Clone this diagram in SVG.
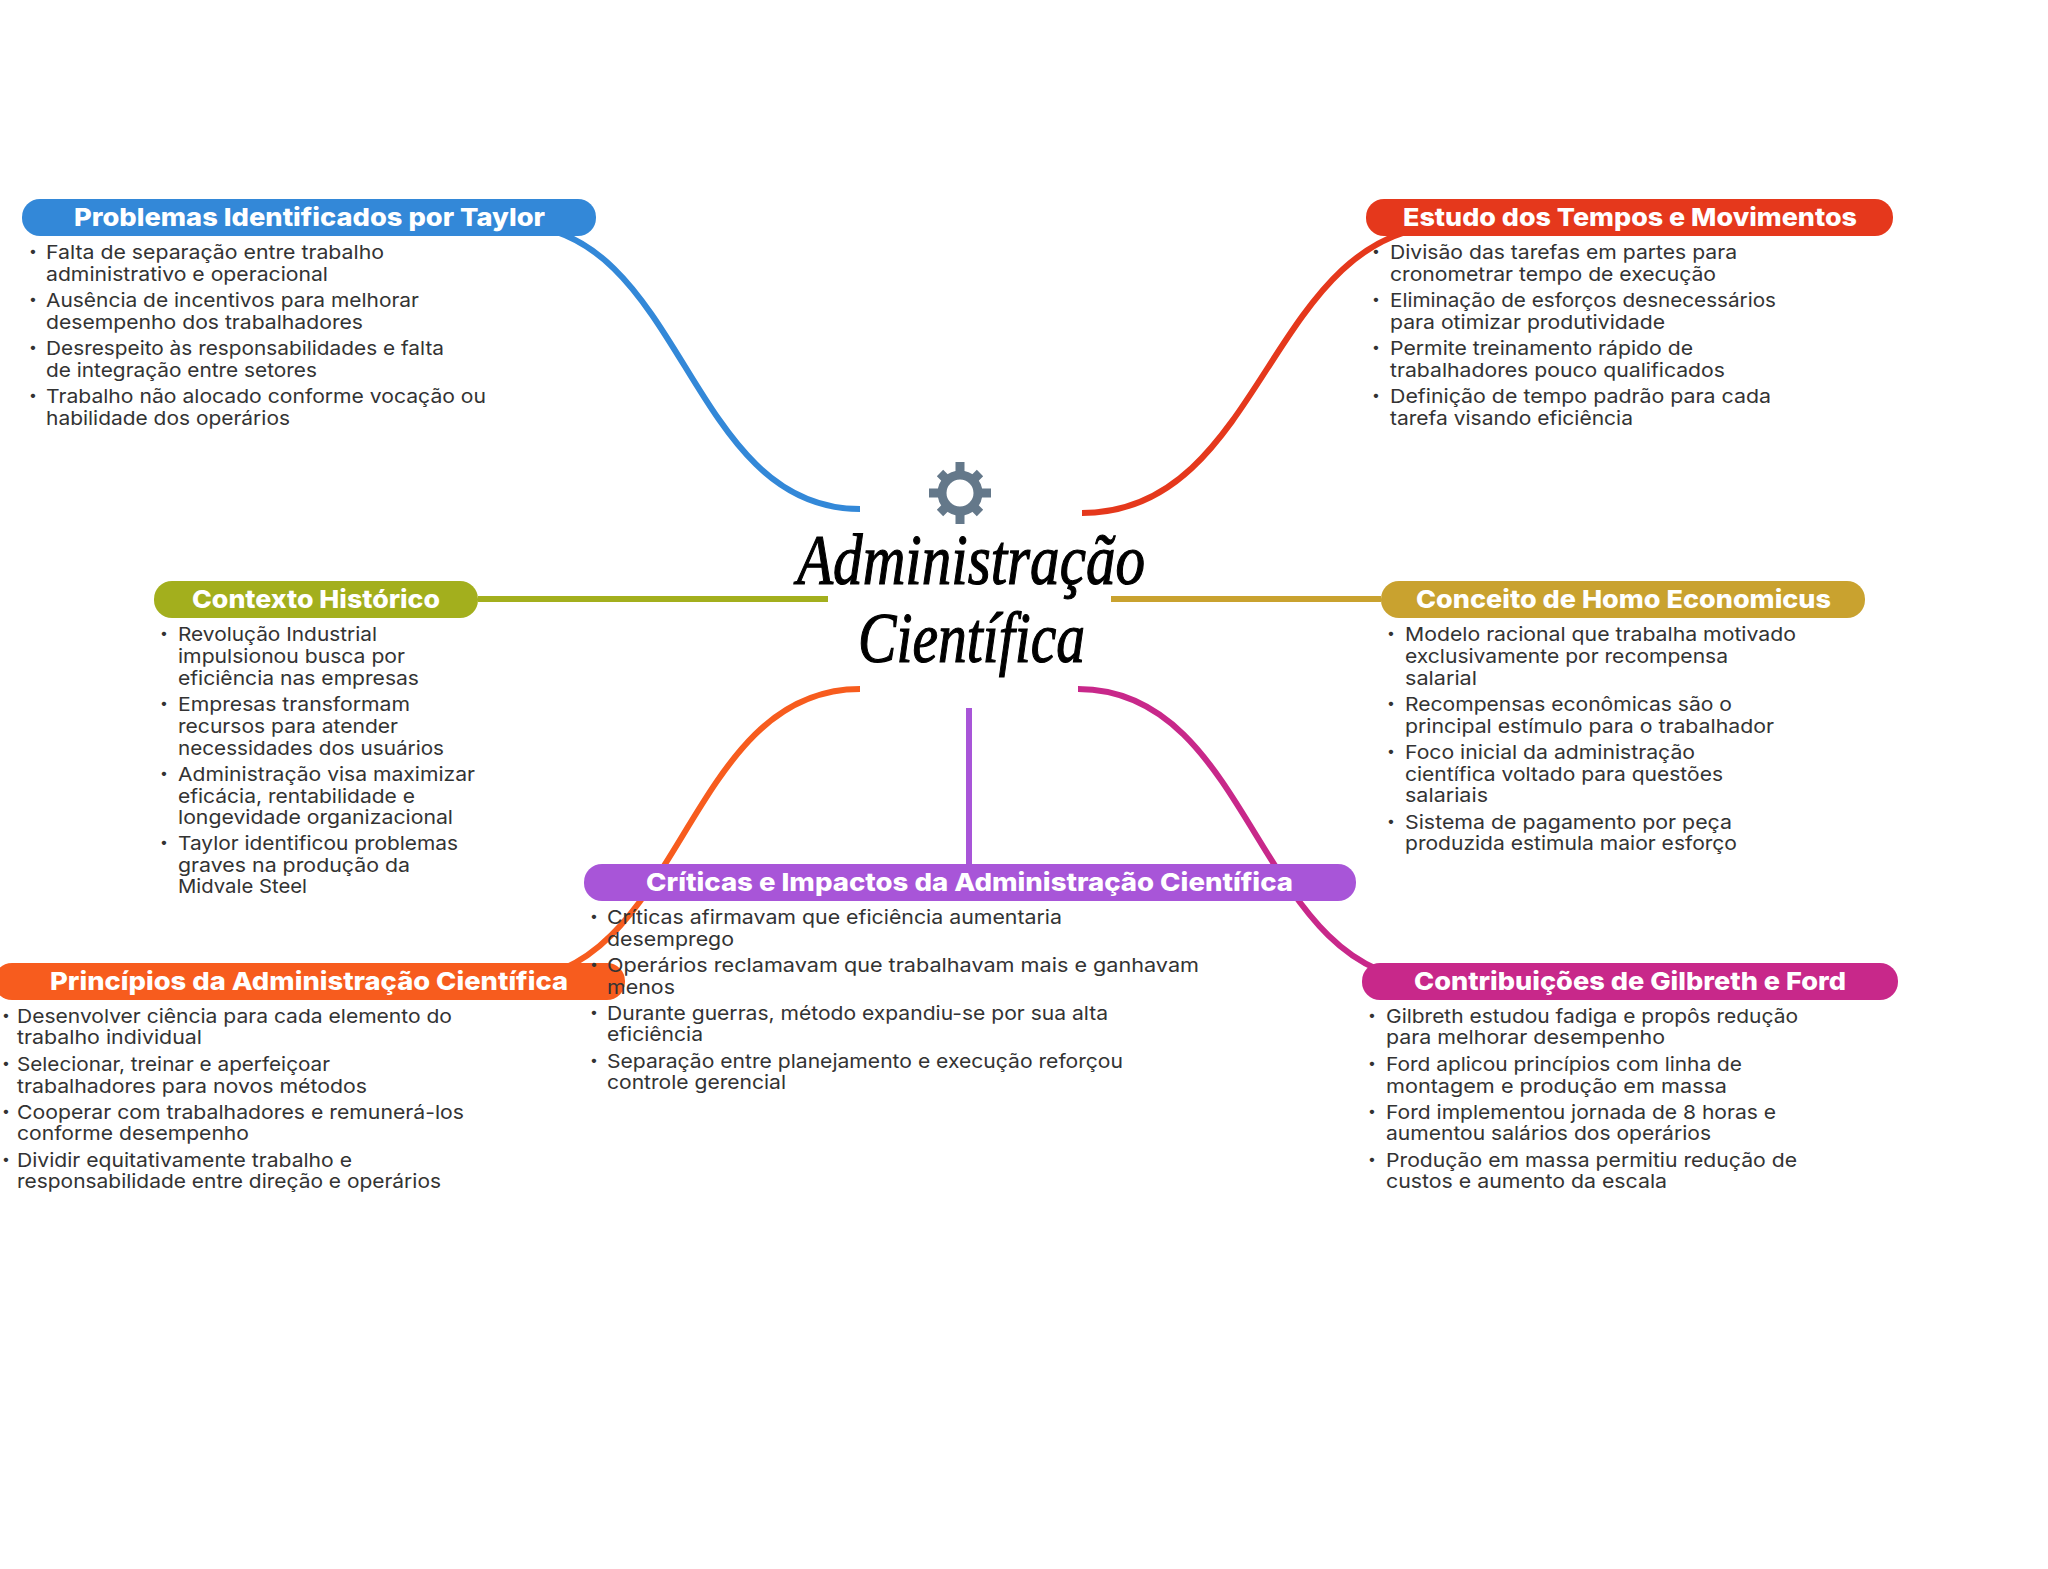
<svg xmlns="http://www.w3.org/2000/svg" width="2048" height="1569" viewBox="0 0 2048 1569">
<style>
text{font-family:"Inter","Noto Sans","Liberation Sans",sans-serif}
.h{font-weight:800;font-size:25px;fill:#fff;text-anchor:start}
.t{font-size:19px;fill:#333;transform:translateY(1px)}
.b{font-size:14px;fill:#333;transform:translate(-1px,-1px)}
.c{fill:none;stroke-width:6;stroke-linecap:butt}
.title{font-family:"Liberation Serif",serif;font-style:italic;font-size:71px;fill:#000;stroke:#000;stroke-width:1.2}
</style>
<rect width="2048" height="1569" fill="#fff"/>
<g id="connectors">
<path class="c" stroke="#3388d8" d="M860,509C685,509 685,224 510,224"/>
<path class="c" stroke="#e5381c" d="M1082,513C1267,513 1267,225 1452,225"/>
<path class="c" stroke="#a3af1d" d="M478,599H828"/>
<path class="c" stroke="#c9a22f" d="M1111,599H1381"/>
<path class="c" stroke="#f75c1e" d="M860,689C683,689 683,981 506,981"/>
<path class="c" stroke="#c8288a" d="M1078,689C1256,689 1256,981 1434,981"/>
<path class="c" stroke="#a855d8" d="M969,708V864"/>
</g>
<g id="node-center">
<g stroke="#64788a" stroke-width="9"><path d="M960,462V524M929,493H991M940,473L980,513M980,473L940,513"/></g>
<circle cx="960" cy="493" r="18" fill="#fff" stroke="#64788a" stroke-width="9"/>
<text class="title" x="797" y="584" textLength="348" lengthAdjust="spacingAndGlyphs">Administração</text>
<text class="title" x="858" y="662" textLength="227" lengthAdjust="spacingAndGlyphs">Científica</text>
</g>
<g id="node-principios">
<rect x="-6" y="963" width="631" height="37" rx="18" fill="#f75c1e"/>
<text class="h" x="50" y="990" textLength="518" lengthAdjust="spacingAndGlyphs">Princípios da Administração Científica</text>
<text class="b" x="3" y="1021">•</text><text class="t" x="17" y="1022" textLength="435" lengthAdjust="spacingAndGlyphs">Desenvolver ciência para cada elemento do</text>
<text class="t" x="17" y="1043" textLength="185" lengthAdjust="spacingAndGlyphs">trabalho individual</text>
<text class="b" x="3" y="1069">•</text><text class="t" x="17" y="1070" textLength="313" lengthAdjust="spacingAndGlyphs">Selecionar, treinar e aperfeiçoar</text>
<text class="t" x="17" y="1092" textLength="350" lengthAdjust="spacingAndGlyphs">trabalhadores para novos métodos</text>
<text class="b" x="3" y="1117">•</text><text class="t" x="17" y="1118" textLength="447" lengthAdjust="spacingAndGlyphs">Cooperar com trabalhadores e remunerá-los</text>
<text class="t" x="17" y="1139" textLength="232" lengthAdjust="spacingAndGlyphs">conforme desempenho</text>
<text class="b" x="3" y="1165">•</text><text class="t" x="17" y="1166" textLength="335" lengthAdjust="spacingAndGlyphs">Dividir equitativamente trabalho e</text>
<text class="t" x="17" y="1187" textLength="424" lengthAdjust="spacingAndGlyphs">responsabilidade entre direção e operários</text>
</g>
<g id="node-problemas">
<rect x="22" y="199" width="574" height="37" rx="18" fill="#3388d8"/>
<text class="h" x="74" y="226" textLength="471" lengthAdjust="spacingAndGlyphs">Problemas Identificados por Taylor</text>
<text class="b" x="30" y="257">•</text><text class="t" x="46" y="258" textLength="338" lengthAdjust="spacingAndGlyphs">Falta de separação entre trabalho</text>
<text class="t" x="46" y="280" textLength="282" lengthAdjust="spacingAndGlyphs">administrativo e operacional</text>
<text class="b" x="30" y="305">•</text><text class="t" x="46" y="306" textLength="373" lengthAdjust="spacingAndGlyphs">Ausência de incentivos para melhorar</text>
<text class="t" x="46" y="328" textLength="317" lengthAdjust="spacingAndGlyphs">desempenho dos trabalhadores</text>
<text class="b" x="30" y="353">•</text><text class="t" x="46" y="354" textLength="398" lengthAdjust="spacingAndGlyphs">Desrespeito às responsabilidades e falta</text>
<text class="t" x="46" y="376" textLength="271" lengthAdjust="spacingAndGlyphs">de integração entre setores</text>
<text class="b" x="30" y="401">•</text><text class="t" x="46" y="402" textLength="440" lengthAdjust="spacingAndGlyphs">Trabalho não alocado conforme vocação ou</text>
<text class="t" x="46" y="424" textLength="244" lengthAdjust="spacingAndGlyphs">habilidade dos operários</text>
</g>
<g id="node-estudo">
<rect x="1366" y="199" width="527" height="37" rx="18" fill="#e5381c"/>
<text class="h" x="1403" y="226" textLength="454" lengthAdjust="spacingAndGlyphs">Estudo dos Tempos e Movimentos</text>
<text class="b" x="1373" y="257">•</text><text class="t" x="1390" y="258" textLength="347" lengthAdjust="spacingAndGlyphs">Divisão das tarefas em partes para</text>
<text class="t" x="1390" y="280" textLength="326" lengthAdjust="spacingAndGlyphs">cronometrar tempo de execução</text>
<text class="b" x="1373" y="305">•</text><text class="t" x="1390" y="306" textLength="386" lengthAdjust="spacingAndGlyphs">Eliminação de esforços desnecessários</text>
<text class="t" x="1390" y="328" textLength="275" lengthAdjust="spacingAndGlyphs">para otimizar produtividade</text>
<text class="b" x="1373" y="353">•</text><text class="t" x="1390" y="354" textLength="303" lengthAdjust="spacingAndGlyphs">Permite treinamento rápido de</text>
<text class="t" x="1390" y="376" textLength="335" lengthAdjust="spacingAndGlyphs">trabalhadores pouco qualificados</text>
<text class="b" x="1373" y="401">•</text><text class="t" x="1390" y="402" textLength="381" lengthAdjust="spacingAndGlyphs">Definição de tempo padrão para cada</text>
<text class="t" x="1390" y="424" textLength="243" lengthAdjust="spacingAndGlyphs">tarefa visando eficiência</text>
</g>
<g id="node-contexto">
<rect x="154" y="581" width="324" height="37" rx="18" fill="#a3af1d"/>
<text class="h" x="192" y="608" textLength="248" lengthAdjust="spacingAndGlyphs">Contexto Histórico</text>
<text class="b" x="161" y="639">•</text><text class="t" x="178" y="640" textLength="199" lengthAdjust="spacingAndGlyphs">Revolução Industrial</text>
<text class="t" x="178" y="662" textLength="227" lengthAdjust="spacingAndGlyphs">impulsionou busca por</text>
<text class="t" x="178" y="684" textLength="241" lengthAdjust="spacingAndGlyphs">eficiência nas empresas</text>
<text class="b" x="161" y="709">•</text><text class="t" x="178" y="710" textLength="232" lengthAdjust="spacingAndGlyphs">Empresas transformam</text>
<text class="t" x="178" y="732" textLength="220" lengthAdjust="spacingAndGlyphs">recursos para atender</text>
<text class="t" x="178" y="754" textLength="266" lengthAdjust="spacingAndGlyphs">necessidades dos usuários</text>
<text class="b" x="161" y="779">•</text><text class="t" x="178" y="780" textLength="297" lengthAdjust="spacingAndGlyphs">Administração visa maximizar</text>
<text class="t" x="178" y="802" textLength="237" lengthAdjust="spacingAndGlyphs">eficácia, rentabilidade e</text>
<text class="t" x="178" y="823" textLength="275" lengthAdjust="spacingAndGlyphs">longevidade organizacional</text>
<text class="b" x="161" y="848">•</text><text class="t" x="178" y="849" textLength="280" lengthAdjust="spacingAndGlyphs">Taylor identificou problemas</text>
<text class="t" x="178" y="871" textLength="232" lengthAdjust="spacingAndGlyphs">graves na produção da</text>
<text class="t" x="178" y="892" textLength="129" lengthAdjust="spacingAndGlyphs">Midvale Steel</text>
</g>
<g id="node-conceito">
<rect x="1381" y="581" width="484" height="37" rx="18" fill="#c9a22f"/>
<text class="h" x="1416" y="608" textLength="415" lengthAdjust="spacingAndGlyphs">Conceito de Homo Economicus</text>
<text class="b" x="1388" y="639">•</text><text class="t" x="1405" y="640" textLength="391" lengthAdjust="spacingAndGlyphs">Modelo racional que trabalha motivado</text>
<text class="t" x="1405" y="662" textLength="323" lengthAdjust="spacingAndGlyphs">exclusivamente por recompensa</text>
<text class="t" x="1405" y="684" textLength="72" lengthAdjust="spacingAndGlyphs">salarial</text>
<text class="b" x="1388" y="709">•</text><text class="t" x="1405" y="710" textLength="327" lengthAdjust="spacingAndGlyphs">Recompensas econômicas são o</text>
<text class="t" x="1405" y="732" textLength="369" lengthAdjust="spacingAndGlyphs">principal estímulo para o trabalhador</text>
<text class="b" x="1388" y="757">•</text><text class="t" x="1405" y="758" textLength="290" lengthAdjust="spacingAndGlyphs">Foco inicial da administração</text>
<text class="t" x="1405" y="780" textLength="318" lengthAdjust="spacingAndGlyphs">científica voltado para questões</text>
<text class="t" x="1405" y="801" textLength="83" lengthAdjust="spacingAndGlyphs">salariais</text>
<text class="b" x="1388" y="827">•</text><text class="t" x="1405" y="828" textLength="327" lengthAdjust="spacingAndGlyphs">Sistema de pagamento por peça</text>
<text class="t" x="1405" y="849" textLength="332" lengthAdjust="spacingAndGlyphs">produzida estimula maior esforço</text>
</g>
<g id="node-criticas">
<rect x="584" y="864" width="772" height="37" rx="18" fill="#a855d8"/>
<text class="h" x="646" y="891" textLength="647" lengthAdjust="spacingAndGlyphs">Críticas e Impactos da Administração Científica</text>
<text class="b" x="591" y="922">•</text><text class="t" x="607" y="923" textLength="455" lengthAdjust="spacingAndGlyphs">Críticas afirmavam que eficiência aumentaria</text>
<text class="t" x="607" y="945" textLength="127" lengthAdjust="spacingAndGlyphs">desemprego</text>
<text class="b" x="591" y="970">•</text><text class="t" x="607" y="971" textLength="592" lengthAdjust="spacingAndGlyphs">Operários reclamavam que trabalhavam mais e ganhavam</text>
<text class="t" x="607" y="993" textLength="68" lengthAdjust="spacingAndGlyphs">menos</text>
<text class="b" x="591" y="1018">•</text><text class="t" x="607" y="1019" textLength="501" lengthAdjust="spacingAndGlyphs">Durante guerras, método expandiu-se por sua alta</text>
<text class="t" x="607" y="1040" textLength="96" lengthAdjust="spacingAndGlyphs">eficiência</text>
<text class="b" x="591" y="1066">•</text><text class="t" x="607" y="1067" textLength="516" lengthAdjust="spacingAndGlyphs">Separação entre planejamento e execução reforçou</text>
<text class="t" x="607" y="1088" textLength="179" lengthAdjust="spacingAndGlyphs">controle gerencial</text>
</g>
<g id="node-contribuicoes">
<rect x="1362" y="963" width="536" height="37" rx="18" fill="#c8288a"/>
<text class="h" x="1414" y="990" textLength="432" lengthAdjust="spacingAndGlyphs">Contribuições de Gilbreth e Ford</text>
<text class="b" x="1369" y="1021">•</text><text class="t" x="1386" y="1022" textLength="412" lengthAdjust="spacingAndGlyphs">Gilbreth estudou fadiga e propôs redução</text>
<text class="t" x="1386" y="1043" textLength="279" lengthAdjust="spacingAndGlyphs">para melhorar desempenho</text>
<text class="b" x="1369" y="1069">•</text><text class="t" x="1386" y="1070" textLength="356" lengthAdjust="spacingAndGlyphs">Ford aplicou princípios com linha de</text>
<text class="t" x="1386" y="1092" textLength="341" lengthAdjust="spacingAndGlyphs">montagem e produção em massa</text>
<text class="b" x="1369" y="1117">•</text><text class="t" x="1386" y="1118" textLength="390" lengthAdjust="spacingAndGlyphs">Ford implementou jornada de 8 horas e</text>
<text class="t" x="1386" y="1139" textLength="325" lengthAdjust="spacingAndGlyphs">aumentou salários dos operários</text>
<text class="b" x="1369" y="1165">•</text><text class="t" x="1386" y="1166" textLength="411" lengthAdjust="spacingAndGlyphs">Produção em massa permitiu redução de</text>
<text class="t" x="1386" y="1187" textLength="281" lengthAdjust="spacingAndGlyphs">custos e aumento da escala</text>
</g>
</svg>
